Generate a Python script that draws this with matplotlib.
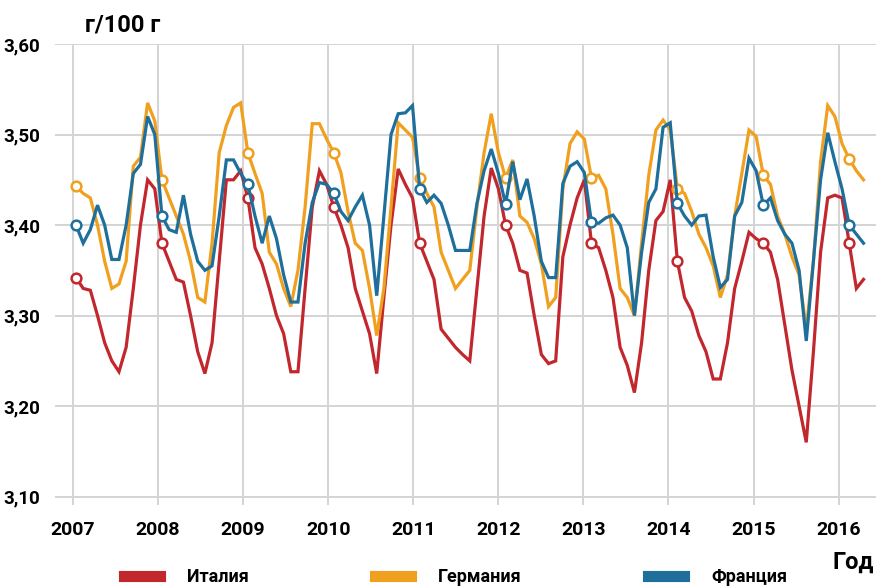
import numpy as np
import matplotlib
matplotlib.use("Agg")
import matplotlib.pyplot as plt
from matplotlib.lines import Line2D

plt.rcParams['font.family'] = ['Roboto', 'DejaVu Sans']
plt.rcParams['font.weight'] = 'bold'

# Monthly fat content, g/100 g, Jan 2007 - Mar 2016
italy = [
    3.342, 3.330, 3.328, 3.300, 3.270, 3.250, 3.238, 3.265, 3.330, 3.400, 3.450, 3.440,
    3.380, 3.360, 3.340, 3.337, 3.300, 3.260, 3.236, 3.270, 3.360, 3.450, 3.450, 3.460,
    3.430, 3.375, 3.357, 3.330, 3.300, 3.280, 3.238, 3.238, 3.330, 3.420, 3.460, 3.445,
    3.420, 3.400, 3.375, 3.330, 3.305, 3.280, 3.236, 3.320, 3.400, 3.462, 3.445, 3.430,
    3.380, 3.360, 3.340, 3.285, 3.275, 3.265, 3.257, 3.250, 3.330, 3.410, 3.463, 3.440,
    3.400, 3.380, 3.350, 3.347, 3.300, 3.257, 3.247, 3.250, 3.365, 3.400, 3.430, 3.450,
    3.380, 3.375, 3.350, 3.320, 3.265, 3.245, 3.215, 3.270, 3.350, 3.405, 3.415, 3.450,
    3.360, 3.320, 3.305, 3.278, 3.260, 3.230, 3.230, 3.270, 3.330, 3.360, 3.392, 3.385,
    3.380, 3.370, 3.340, 3.290, 3.240, 3.200, 3.160, 3.260, 3.370, 3.430, 3.433, 3.430,
    3.380, 3.330, 3.340,
]
germany = [
    3.443, 3.435, 3.430, 3.400, 3.360, 3.330, 3.335, 3.360, 3.465, 3.475, 3.535, 3.515,
    3.450, 3.430, 3.410, 3.390, 3.360, 3.320, 3.315, 3.380, 3.480, 3.510, 3.530, 3.535,
    3.480, 3.457, 3.435, 3.370, 3.357, 3.330, 3.310, 3.350, 3.420, 3.512, 3.512, 3.495,
    3.480, 3.458, 3.415, 3.380, 3.372, 3.330, 3.278, 3.330, 3.420, 3.513, 3.505, 3.497,
    3.452, 3.435, 3.420, 3.370, 3.350, 3.330, 3.340, 3.350, 3.420, 3.480, 3.523, 3.480,
    3.452, 3.472, 3.410, 3.403, 3.385, 3.357, 3.310, 3.320, 3.440, 3.490, 3.503, 3.495,
    3.452, 3.455, 3.440, 3.390, 3.330, 3.320, 3.300, 3.380, 3.455, 3.505, 3.516, 3.505,
    3.440, 3.435, 3.415, 3.390, 3.375, 3.355, 3.320, 3.345, 3.410, 3.457, 3.505, 3.498,
    3.455, 3.445, 3.410, 3.390, 3.365, 3.345, 3.285, 3.360, 3.470, 3.532, 3.520, 3.490,
    3.473, 3.460, 3.450,
]
france = [
    3.400, 3.380, 3.395, 3.422, 3.400, 3.362, 3.362, 3.400, 3.457, 3.467, 3.520, 3.500,
    3.410, 3.395, 3.392, 3.433, 3.390, 3.360, 3.350, 3.355, 3.410, 3.472, 3.472, 3.457,
    3.445, 3.410, 3.380, 3.410, 3.385, 3.345, 3.315, 3.315, 3.380, 3.425, 3.447, 3.445,
    3.435, 3.415, 3.405, 3.420, 3.433, 3.400, 3.322, 3.410, 3.500, 3.523, 3.524, 3.532,
    3.440, 3.425, 3.433, 3.424, 3.400, 3.372, 3.372, 3.372, 3.424, 3.460, 3.484, 3.457,
    3.423, 3.470, 3.428, 3.451, 3.410, 3.360, 3.342, 3.342, 3.446, 3.465, 3.470, 3.458,
    3.403, 3.402, 3.408, 3.411, 3.400, 3.375, 3.300, 3.370, 3.425, 3.440, 3.508, 3.513,
    3.424, 3.410, 3.400, 3.410, 3.411, 3.365, 3.331, 3.340, 3.410, 3.425, 3.474, 3.460,
    3.422, 3.430, 3.405, 3.390, 3.380, 3.350, 3.272, 3.360, 3.450, 3.502, 3.470, 3.440,
    3.400, 3.390, 3.380,
]

series_names = ['Италия', 'Германия', 'Франция']
colors = ['#c1272d', '#f0a01e', '#1f6f9c']
years = list(range(2007, 2017))
y_ticks = [3.10, 3.20, 3.30, 3.40, 3.50, 3.60]

fig = plt.figure(figsize=(8.76, 5.87), dpi=100)
ax = fig.add_axes([0.063, 0.14, 0.937, 0.785])

# months placed as decimal years, circles mark each January
months = np.arange(len(italy))
x = 2007.035 + months * 1.01 / 12

for vals, c in zip([italy, germany, france], colors):
    ax.plot(x, vals, color=c, lw=2.3, solid_joinstyle='miter',
            marker='o', markevery=12, markersize=7, markerfacecolor='white',
            markeredgecolor=c, markeredgewidth=1.8)

ax.set_xlim(2006.79, 2016.44)
ax.set_ylim(3.091, 3.60)
ax.set_xticks(years)
ax.set_xticklabels([str(y) for y in years])
ax.set_yticks(y_ticks)
ax.set_yticklabels([f'{v:.2f}'.replace('.', ',') for v in y_ticks])
ax.grid(True, color='#d4d4d4', lw=1.4)
ax.set_axisbelow(True)
for s in ax.spines.values():
    s.set_visible(False)
ax.tick_params(length=0, labelsize=13.5, pad=11)
ax.tick_params(axis='x', labelsize=14, pad=12)

fig.text(0.097, 0.957, 'г/100 г', fontsize=17, fontweight='bold', va='center')
fig.text(0.998, 0.043, 'Год', fontsize=17, fontweight='bold', ha='right', va='center')

handles = [Line2D([0], [0], color=c, lw=8) for c in colors]
fig.legend(handles, series_names, loc='center', bbox_to_anchor=(0.52, 0.017),
           ncol=3, frameon=False, fontsize=13, handlelength=2.0,
           handletextpad=1.5, columnspacing=7.0)

fig.savefig('out.png', dpi=100)
